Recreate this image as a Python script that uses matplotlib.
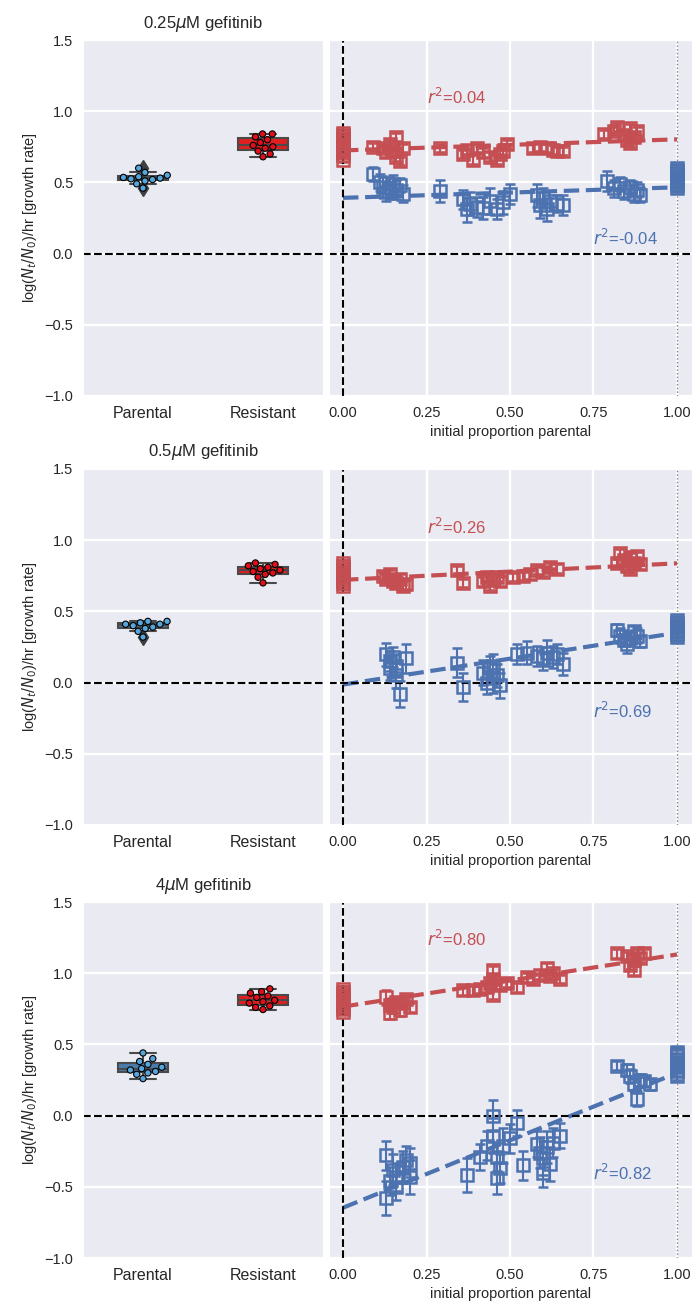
import numpy as np
import pandas as pd
import matplotlib
matplotlib.use("Agg")
import matplotlib.pyplot as plt
import seaborn as sns

titles = [r"0.25$\mu$M gefitinib", r"0.5$\mu$M gefitinib", r"4$\mu$M gefitinib"]
groups = ["Parental", "Resistant"]

# monoculture growth rates (left panels)
par_025 = [0.46, 0.49, 0.51, 0.52, 0.525, 0.53, 0.535, 0.54, 0.55, 0.57, 0.60]
res_025 = [0.68, 0.70, 0.72, 0.74, 0.75, 0.76, 0.78, 0.80, 0.82, 0.84, 0.84]
par_05 = [0.32, 0.36, 0.38, 0.39, 0.40, 0.41, 0.41, 0.42, 0.43, 0.43]
res_05 = [0.70, 0.74, 0.76, 0.77, 0.78, 0.79, 0.80, 0.81, 0.82, 0.83, 0.84]
par_4 = [0.26, 0.29, 0.30, 0.31, 0.32, 0.33, 0.34, 0.36, 0.38, 0.40, 0.44]
res_4 = [0.745, 0.76, 0.77, 0.79, 0.80, 0.81, 0.83, 0.84, 0.86, 0.87, 0.89]

# co-culture growth rates vs initial proportion parental (right panels)
# 0.25 uM
rx_025 = [0, 0, 0, 0, 0, 0, 0, 0, 0, 0,
          0.09, 0.12, 0.13, 0.14, 0.15, 0.16, 0.16, 0.17, 0.18,
          0.29, 0.36, 0.37, 0.39, 0.40, 0.42, 0.44, 0.46, 0.47, 0.49, 0.48,
          0.57, 0.59, 0.61, 0.63, 0.64, 0.66,
          0.78, 0.81, 0.82, 0.84, 0.85, 0.86, 0.87, 0.88, 0.86]
ry_025 = [0.66, 0.69, 0.71, 0.73, 0.75, 0.77, 0.79, 0.81, 0.83, 0.85,
          0.75, 0.74, 0.71, 0.77, 0.72, 0.82, 0.68, 0.65, 0.74,
          0.74, 0.70, 0.73, 0.66, 0.74, 0.71, 0.68, 0.66, 0.70, 0.77, 0.72,
          0.74, 0.75, 0.74, 0.73, 0.72, 0.72,
          0.84, 0.86, 0.89, 0.83, 0.80, 0.88, 0.82, 0.86, 0.78]
re_025 = [0.02] * 10 + [0.03] * 35
bx_025 = [0.09, 0.11, 0.12, 0.13, 0.14, 0.15, 0.16, 0.17, 0.18,
          0.29, 0.36, 0.37, 0.38, 0.40, 0.42, 0.44, 0.46, 0.48, 0.50,
          0.58, 0.59, 0.60, 0.61, 0.62, 0.64, 0.66,
          0.79, 0.81, 0.83, 0.84, 0.86, 0.87, 0.88, 0.89,
          1, 1, 1, 1, 1, 1, 1, 1]
by_025 = [0.56, 0.50, 0.47, 0.43, 0.46, 0.49, 0.45, 0.48, 0.42,
          0.44, 0.38, 0.31, 0.35, 0.33, 0.32, 0.37, 0.31, 0.36, 0.42,
          0.41, 0.34, 0.39, 0.31, 0.37, 0.35, 0.34,
          0.51, 0.46, 0.49, 0.44, 0.47, 0.42, 0.45, 0.41,
          0.46, 0.48, 0.50, 0.52, 0.54, 0.56, 0.58, 0.60]
be_025 = [0.05, 0.06, 0.07, 0.06, 0.08, 0.06, 0.07, 0.05, 0.06,
          0.08, 0.07, 0.09, 0.08, 0.07, 0.08, 0.09, 0.07, 0.08, 0.07,
          0.08, 0.09, 0.07, 0.08, 0.07, 0.06, 0.07,
          0.07, 0.06, 0.05, 0.06, 0.05, 0.06, 0.05, 0.05,
          0.03, 0.03, 0.03, 0.03, 0.03, 0.03, 0.03, 0.03]
# 0.5 uM
rx_05 = [0, 0, 0, 0, 0, 0, 0, 0, 0,
         0.12, 0.13, 0.14, 0.15, 0.16, 0.17, 0.18, 0.19,
         0.34, 0.36, 0.42, 0.43, 0.44, 0.45, 0.46, 0.47,
         0.51, 0.54, 0.56, 0.58, 0.60, 0.62, 0.64,
         0.82, 0.83, 0.84, 0.85, 0.86, 0.87, 0.88, 0.89, 0.86]
ry_05 = [0.68, 0.70, 0.72, 0.74, 0.76, 0.78, 0.80, 0.82, 0.84,
         0.75, 0.73, 0.76, 0.71, 0.70, 0.73, 0.68, 0.69,
         0.79, 0.70, 0.71, 0.74, 0.68, 0.72, 0.74, 0.71,
         0.74, 0.75, 0.76, 0.79, 0.78, 0.81, 0.80,
         0.84, 0.91, 0.86, 0.82, 0.88, 0.84, 0.89, 0.83, 0.80]
re_05 = [0.02] * 9 + [0.03] * 32
bx_05 = [0.13, 0.14, 0.14, 0.15, 0.16, 0.16, 0.17, 0.19,
         0.34, 0.36, 0.42, 0.43, 0.44, 0.45, 0.46, 0.47, 0.45,
         0.52, 0.55, 0.58, 0.60, 0.61, 0.63, 0.64, 0.66,
         0.82, 0.83, 0.84, 0.85, 0.86, 0.87, 0.88, 0.89,
         1, 1, 1, 1, 1, 1, 1]
by_05 = [0.20, 0.15, 0.10, 0.18, 0.05, 0.12, -0.08, 0.17,
         0.14, -0.03, 0.07, 0.00, 0.10, 0.03, 0.05, -0.02, 0.12,
         0.20, 0.21, 0.19, 0.17, 0.21, 0.18, 0.20, 0.13,
         0.37, 0.33, 0.30, 0.27, 0.31, 0.36, 0.33, 0.29,
         0.32, 0.34, 0.36, 0.38, 0.40, 0.42, 0.44]
be_05 = [0.08, 0.07, 0.08, 0.07, 0.09, 0.08, 0.09, 0.10,
         0.10, 0.10, 0.09, 0.08, 0.09, 0.10, 0.08, 0.09, 0.08,
         0.07, 0.08, 0.07, 0.08, 0.09, 0.08, 0.07, 0.08,
         0.04, 0.05, 0.04, 0.06, 0.05, 0.04, 0.05, 0.04,
         0.03, 0.03, 0.03, 0.03, 0.03, 0.03, 0.03]
# 4 uM
rx_4 = [0, 0, 0, 0, 0, 0, 0, 0, 0,
        0.13, 0.14, 0.14, 0.15, 0.16, 0.17, 0.18, 0.19, 0.20,
        0.36, 0.39, 0.41, 0.43, 0.44, 0.45, 0.45, 0.45, 0.47, 0.49,
        0.52, 0.55, 0.57, 0.59, 0.61, 0.62, 0.63, 0.65,
        0.82, 0.85, 0.86, 0.87, 0.87, 0.88, 0.89, 0.90]
ry_4 = [0.73, 0.75, 0.77, 0.79, 0.81, 0.83, 0.85, 0.87, 0.89,
        0.83, 0.72, 0.78, 0.76, 0.80, 0.74, 0.79, 0.82, 0.76,
        0.88, 0.88, 0.89, 0.90, 0.93, 1.02, 0.96, 0.85, 0.92, 0.93,
        0.90, 0.97, 0.96, 0.99, 1.04, 0.98, 1.00, 0.96,
        1.14, 1.12, 1.06, 1.02, 1.09, 1.14, 1.11, 1.14]
re_4 = [0.02] * 9 + [0.05, 0.04, 0.03, 0.04, 0.03, 0.04, 0.03, 0.03, 0.03] + [0.03] * 26
bx_4 = [0.13, 0.13, 0.14, 0.15, 0.16, 0.16, 0.18, 0.19, 0.20, 0.20,
        0.37, 0.41, 0.43, 0.45, 0.45, 0.46, 0.46, 0.47, 0.48, 0.50,
        0.52, 0.54, 0.58, 0.59, 0.60, 0.60, 0.61, 0.62, 0.63, 0.65,
        0.82, 0.85, 0.86, 0.87, 0.88, 0.89, 0.90, 0.92,
        1, 1, 1, 1, 1, 1, 1]
by_4 = [-0.28, -0.58, -0.46, -0.38, -0.43, -0.50, -0.36, -0.31, -0.43, -0.33,
        -0.42, -0.29, -0.21, 0.00, -0.14, -0.29, -0.44, -0.37, -0.21, -0.16,
        -0.05, -0.35, -0.20, -0.26, -0.30, -0.40, -0.22, -0.34, -0.19, -0.14,
        0.35, 0.32, 0.28, 0.22, 0.12, 0.25, 0.24, 0.22,
        0.28, 0.31, 0.34, 0.37, 0.40, 0.43, 0.45]
be_4 = [0.10, 0.12, 0.10, 0.11, 0.10, 0.09, 0.11, 0.10, 0.12, 0.10,
        0.12, 0.09, 0.10, 0.11, 0.12, 0.10, 0.11, 0.10, 0.12, 0.10,
        0.09, 0.10, 0.09, 0.11, 0.12, 0.10, 0.11, 0.12, 0.10, 0.09,
        0.03, 0.04, 0.05, 0.04, 0.05, 0.04, 0.03, 0.04,
        0.03, 0.03, 0.03, 0.03, 0.03, 0.03, 0.03]

r2_res = ["0.04", "0.26", "0.80"]
r2_par = ["-0.04", "0.69", "0.82"]

mono = [(par_025, res_025), (par_05, res_05), (par_4, res_4)]
mix = [((rx_025, ry_025, re_025), (bx_025, by_025, be_025)),
       ((rx_05, ry_05, re_05), (bx_05, by_05, be_05)),
       ((rx_4, ry_4, re_4), (bx_4, by_4, be_4))]

sns.set_style("darkgrid")
plt.rcParams['font.family'] = ['Liberation Sans', 'DejaVu Sans']
plt.rcParams['grid.linewidth'] = 1.6

red = '#c44e52'
blue = '#4c72b0'
box_colors = {'Parental': '#4a7cac', 'Resistant': '#e02020'}
dot_colors = {'Parental': '#56a6dc', 'Resistant': '#e0101a'}
r2_ypos = [(1.10, 0.11), (1.09, -0.20), (1.24, -0.40)]

W, H = 694, 1304
tops = [40, 469, 902]
h = 356

fig = plt.figure(figsize=(W / 100, H / 100), dpi=100)

for i in range(3):
    yb = 1 - (tops[i] + h) / H
    axL = fig.add_axes([83 / W, yb, 240 / W, h / H])
    axR = fig.add_axes([329 / W, yb, 363 / W, h / H], sharey=axL)

    par, res = mono[i]
    df = pd.DataFrame({'group': ['Parental'] * len(par) + ['Resistant'] * len(res),
                       'rate': par + res})
    sns.boxplot(data=df, x='group', y='rate', hue='group', palette=box_colors,
                legend=False, width=0.42, saturation=1, linewidth=1.5,
                flierprops=dict(marker='d', markerfacecolor='#3f3f3f',
                                markeredgecolor='#3f3f3f', markersize=8),
                ax=axL)
    sns.swarmplot(data=df, x='group', y='rate', hue='group', palette=dot_colors,
                  legend=False, size=4.5, edgecolor='black', linewidth=0.8, ax=axL)
    axL.axhline(0, color='k', ls='--', lw=1.5)
    axL.set_xlim(-0.5, 1.5)
    axL.set_ylim(-1, 1.5)
    axL.set_yticks(np.arange(-1, 1.51, 0.5))
    axL.grid(axis='x', visible=False)
    axL.set_xlabel('')
    axL.set_ylabel(r'log($N_t/N_0$)/hr [growth rate]', fontsize=10.5)
    axL.tick_params(axis='x', labelsize=11.5)
    axL.tick_params(axis='y', labelsize=10.5)
    axL.set_title(titles[i], fontsize=12, pad=9)

    for (x, y, e), c in zip(mix[i], [red, blue]):
        axR.errorbar(x, y, yerr=e, fmt='s', mfc='none', mec=c, ecolor=c,
                     ms=8.5, mew=1.8, elinewidth=1.5, capsize=3.5, capthick=1.5)
        coef = np.polyfit(x, y, 1)
        xs = np.array([0.0, 1.0])
        axR.plot(xs, np.polyval(coef, xs), '--', color=c, lw=3)
    axR.axhline(0, color='k', ls='--', lw=1.5)
    axR.axvline(0, color='k', ls='--', lw=1.5)
    axR.axvline(1, color='gray', ls=':', lw=1)
    axR.text(0.25, r2_ypos[i][0], '$r^2$=' + r2_res[i], color=red, fontsize=12, va='center')
    axR.text(0.75, r2_ypos[i][1], '$r^2$=' + r2_par[i], color=blue, fontsize=12, va='center')
    axR.set_xlim(-0.042, 1.045)
    axR.set_xticks([0, 0.25, 0.5, 0.75, 1.0])
    axR.set_xticklabels(['0.00', '0.25', '0.50', '0.75', '1.00'])
    axR.tick_params(axis='x', labelsize=10.5)
    axR.tick_params(axis='y', length=0)
    plt.setp(axR.get_yticklabels(), visible=False)
    axR.set_ylabel('')
    axR.set_xlabel('initial proportion parental', fontsize=10.5)

fig.savefig('out.png', dpi=100)
